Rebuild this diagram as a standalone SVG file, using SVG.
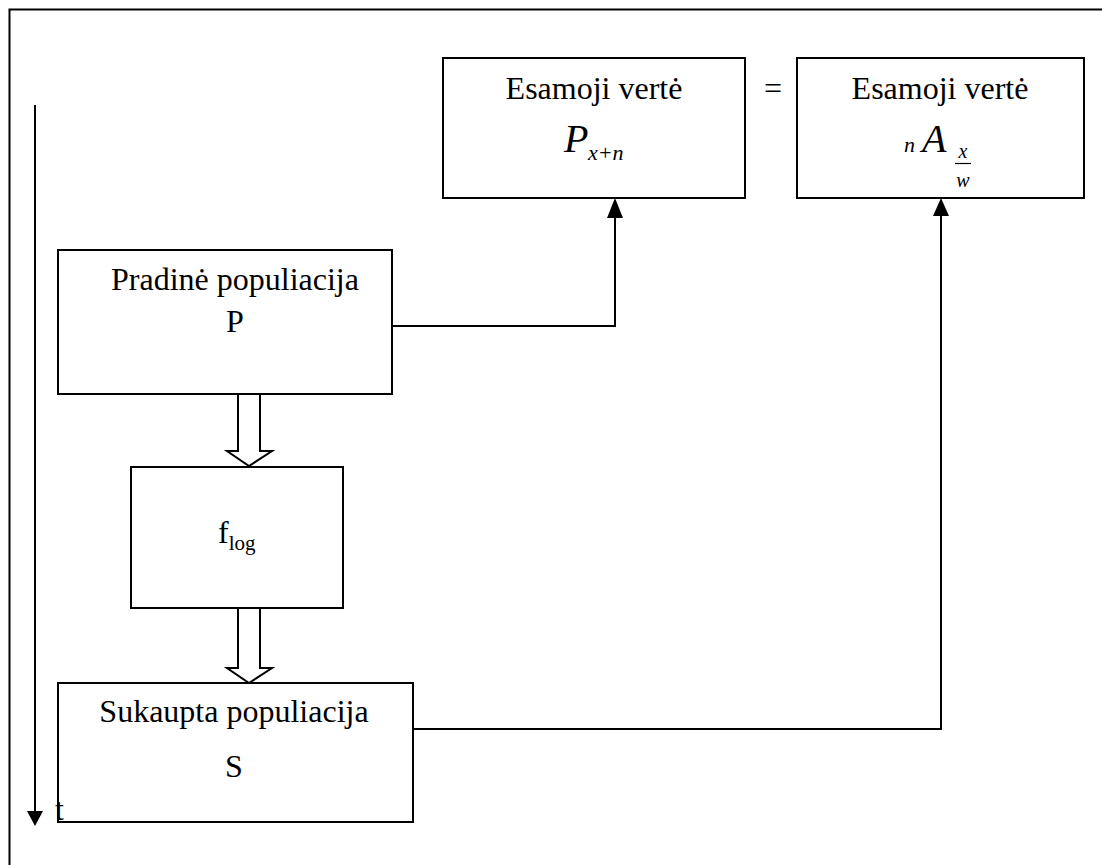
<svg xmlns="http://www.w3.org/2000/svg" width="1102" height="865" viewBox="0 0 1102 865">
<defs>
<style>
.box{fill:#fff;stroke:#000;stroke-width:2}
.ln{fill:none;stroke:#000;stroke-width:2}
.hol{fill:#fff;stroke:#000;stroke-width:2;stroke-linejoin:miter}
.t{font-family:"Liberation Serif","Times New Roman",serif;font-size:32px;fill:#000}
.i{font-family:"Liberation Serif","Times New Roman",serif;font-style:italic;fill:#000}
</style>
<marker id="ah" markerWidth="16" markerHeight="20" refX="8" refY="0" orient="auto-start-reverse" markerUnits="userSpaceOnUse" viewBox="0 0 16 20">
<path d="M0,20 L8,0 L16,20 Z" fill="#000"/>
</marker>
</defs>
<rect x="0" y="0" width="1102" height="865" fill="#fff"/>
<rect x="9.5" y="9.5" width="1100" height="870" fill="none" stroke="#000" stroke-width="2"/>

<g id="connectors">
<polyline class="ln" points="392,326 615,326 615,218"/>
<path d="M607,218 L615,198 L623,218 Z" fill="#000"/>
<polyline class="ln" points="413,729 941,729 941,216"/>
<path d="M933,216 L941,198 L949,216 Z" fill="#000"/>
<line class="ln" x1="35" y1="105" x2="35" y2="811"/>
<path d="M27,811 L35,826 L43,811 Z" fill="#000"/>
</g>

<g id="node-present-P">
<rect class="box" x="443" y="58" width="302" height="140"/>
<text class="t" x="594" y="99" text-anchor="middle">Esamoji vertė</text>
<text class="i" x="564" y="152" font-size="40">P</text>
<text class="i" x="588" y="160" font-size="22">x+n</text>
</g>

<g id="equals">
<text class="t" x="773" y="99" text-anchor="middle">=</text>
</g>

<g id="node-present-A">
<rect class="box" x="797" y="58" width="287" height="140"/>
<text class="t" x="940" y="99" text-anchor="middle">Esamoji vertė</text>
<text class="i" x="904" y="152" font-size="22">n</text>
<text class="i" x="922" y="152" font-size="40">A</text>
<text class="i" x="963" y="158" font-size="20" text-anchor="middle">x</text>
<line x1="955" y1="163.5" x2="971" y2="163.5" stroke="#000" stroke-width="1.2"/>
<text class="i" x="963" y="187" font-size="20" text-anchor="middle">w</text>
</g>

<g id="node-initial">
<rect class="box" x="58" y="250" width="334" height="144"/>
<text class="t" x="235" y="290" text-anchor="middle">Pradinė populiacija</text>
<text class="t" x="235" y="332" text-anchor="middle">P</text>
</g>

<g id="hollow-arrow-1">
<path class="hol" d="M238,395 L238,451 L227,451 L249,466 L272,451 L260,451 L260,395"/>
</g>

<g id="node-flog">
<rect class="box" x="131" y="467" width="212" height="141"/>
<text class="t" x="218" y="543">f<tspan font-size="21" dy="7">log</tspan></text>
</g>

<g id="hollow-arrow-2">
<path class="hol" d="M238,609 L238,668 L227,668 L249,683 L272,668 L260,668 L260,609"/>
</g>

<g id="node-accumulated">
<rect class="box" x="58" y="683" width="355" height="139"/>
<text class="t" x="234" y="722" text-anchor="middle">Sukaupta populiacija</text>
<text class="t" x="234" y="777" text-anchor="middle">S</text>
</g>

<g id="time-label">
<text class="t" x="55" y="820" font-size="30">t</text>
</g>
</svg>
